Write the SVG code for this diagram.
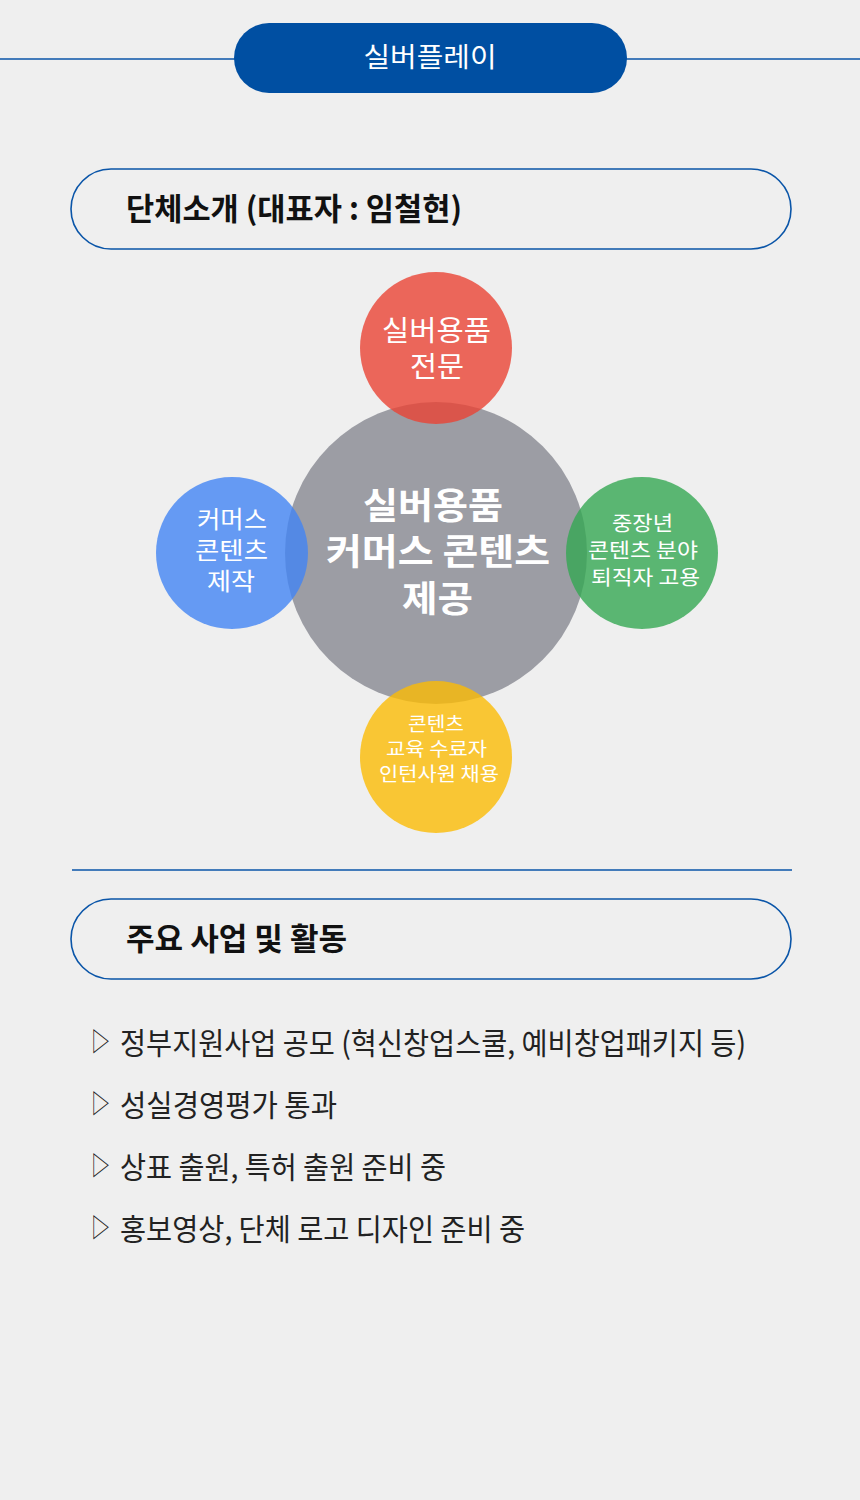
<svg xmlns="http://www.w3.org/2000/svg" width="860" height="1500" viewBox="0 0 860 1500">
<style>
text{font-family:"Noto Sans CJK KR","Noto Sans",sans-serif}
.hdr{fill:#ffffff;font-size:27px;text-anchor:middle}
.box{fill:none;stroke:#0a55a8;stroke-width:1.6}
.ttl{fill:#111111;font-size:31px;font-weight:700}
.item{fill:#222222;font-size:30px}
.tri{fill:#222222;font-size:26px}
.cw{fill:#ffffff;text-anchor:middle}
.rule{stroke:#0a55a8;stroke-width:1.5}
</style>
<rect x="0" y="0" width="860" height="1500" fill="#efefef"/>
<g id="header">
<line class="rule" x1="0" y1="59" x2="860" y2="59" stroke-width="2"/>
<rect x="234" y="23" width="393" height="70" rx="35" fill="#004fa2"/>
<text class="hdr" x="430" y="67" textLength="133" lengthAdjust="spacingAndGlyphs">실버플레이</text>
</g>
<g id="section1">
<rect class="box" x="71" y="169" width="720" height="80" rx="40"/>
<text class="ttl" x="126" y="220" textLength="336" lengthAdjust="spacingAndGlyphs">단체소개 (대표자 : 임철현)</text>
</g>
<g id="center">
<circle cx="436" cy="553" r="151" fill="#9c9da4"/>
</g>
<g id="red" opacity="0.8">
<circle cx="436" cy="348" r="76" fill="#ea4335"/>
</g>
<g id="blue" opacity="0.8">
<circle cx="232" cy="553" r="76" fill="#4285f4"/>
</g>
<g id="green" opacity="0.8">
<circle cx="642" cy="553" r="76" fill="#34a853"/>
</g>
<g id="yellow" opacity="0.8">
<circle cx="436" cy="757" r="76" fill="#fbbc05"/>
</g>
<g id="labels">
<text class="cw" font-size="28" x="436.5" y="341" textLength="109" lengthAdjust="spacingAndGlyphs">실버용품</text>
<text class="cw" font-size="28" x="437" y="377" textLength="54" lengthAdjust="spacingAndGlyphs">전문</text>
<text class="cw" font-size="36" font-weight="700" x="433" y="519" textLength="140" lengthAdjust="spacingAndGlyphs">실버용품</text>
<text class="cw" font-size="36" font-weight="700" x="438" y="565" textLength="224" lengthAdjust="spacingAndGlyphs">커머스 콘텐츠</text>
<text class="cw" font-size="36" font-weight="700" x="437.5" y="612" textLength="71" lengthAdjust="spacingAndGlyphs">제공</text>
<text class="cw" font-size="24" x="232" y="528" textLength="70" lengthAdjust="spacingAndGlyphs">커머스</text>
<text class="cw" font-size="24" x="231.5" y="559" textLength="73" lengthAdjust="spacingAndGlyphs">콘텐츠</text>
<text class="cw" font-size="24" x="231" y="590" textLength="48" lengthAdjust="spacingAndGlyphs">제작</text>
<text class="cw" font-size="20.5" x="642.5" y="531" textLength="61" lengthAdjust="spacingAndGlyphs">중장년</text>
<text class="cw" font-size="20.5" x="643" y="558" textLength="110" lengthAdjust="spacingAndGlyphs">콘텐츠 분야</text>
<text class="cw" font-size="20.5" x="645.5" y="585" textLength="109" lengthAdjust="spacingAndGlyphs">퇴직자 고용</text>
<text class="cw" font-size="19" x="436" y="731" textLength="56" lengthAdjust="spacingAndGlyphs">콘텐츠</text>
<text class="cw" font-size="19" x="436.5" y="756" textLength="101" lengthAdjust="spacingAndGlyphs">교육 수료자</text>
<text class="cw" font-size="19" x="439" y="781" textLength="120" lengthAdjust="spacingAndGlyphs">인턴사원 채용</text>
</g>
<g id="divider">
<line class="rule" x1="72" y1="870" x2="792" y2="870"/>
</g>
<g id="section2">
<rect class="box" x="71" y="899" width="720" height="80" rx="40"/>
<text class="ttl" x="126" y="950" textLength="221" lengthAdjust="spacingAndGlyphs">주요 사업 및 활동</text>
</g>
<g id="list">
<text class="tri" x="91" y="1051" textLength="19" lengthAdjust="spacingAndGlyphs">▷</text>
<text class="item" x="120" y="1054" textLength="626" lengthAdjust="spacingAndGlyphs">정부지원사업 공모 (혁신창업스쿨, 예비창업패키지 등)</text>
<text class="tri" x="91" y="1113" textLength="19" lengthAdjust="spacingAndGlyphs">▷</text>
<text class="item" x="120" y="1116" textLength="217" lengthAdjust="spacingAndGlyphs">성실경영평가 통과</text>
<text class="tri" x="91" y="1175" textLength="19" lengthAdjust="spacingAndGlyphs">▷</text>
<text class="item" x="120" y="1178" textLength="326" lengthAdjust="spacingAndGlyphs">상표 출원, 특허 출원 준비 중</text>
<text class="tri" x="91" y="1237" textLength="19" lengthAdjust="spacingAndGlyphs">▷</text>
<text class="item" x="120" y="1240" textLength="405" lengthAdjust="spacingAndGlyphs">홍보영상, 단체 로고 디자인 준비 중</text>
</g>
</svg>
